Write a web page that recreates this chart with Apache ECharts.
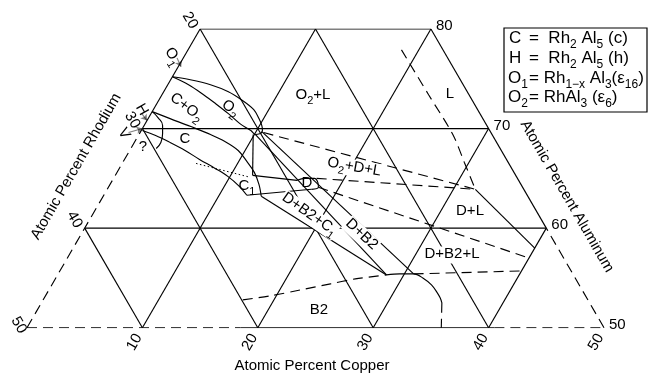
<!DOCTYPE html>
<html>
<head>
<meta charset="utf-8">
<title>Al-Cu-Rh partial section</title>
<script src="https://cdn.jsdelivr.net/npm/echarts@6/dist/echarts.min.js"></script>
<style>
html,body{margin:0;padding:0;background:#fff;}
#chart{width:649px;height:376px;}
</style>
</head>
<body>
<div id="chart"></div>
<script>
// ---------- axis ticks (atomic percent) ----------
const alTicks = [80, 70, 60, 50];      // right edge (Aluminum)
const cuTicks = [10, 20, 30, 40, 50];  // bottom edge (Copper)
const rhTicks = [20, 30, 40, 50];      // left edge (Rhodium)
const alLines = [60, 70, 80];
const cuLines = [10, 20, 30, 40];
const rhLines = [10, 20, 30, 40];
const leftEdgeSolidAl = [70, 80];
const rightEdgeSolidAl = [60, 80];
const bottomEdgeSolidCu = [18.5, 40.5];

// ---------- phase boundaries: points are [Cu at.%, Al at.%] ----------
const o2Upper = [[0,75.2],[1.7,74.9],[3.7,74.4],[5.6,73.7],[7.3,72.8],[8.7,71.9],[9.6,71.0],[10.2,70.3],[10.5,69.8],[10.5,69.5]];
const o2Lower = [[0,75.2],[1.8,74.4],[3.6,73.4],[5.1,72.5],[6.7,71.5],[8.2,70.5],[9.5,69.8],[10.1,69.4],[10.5,69.5]];
const cUpper = [[0,71.7],[1.9,71.0],[4.1,70.2],[6.2,69.4],[7.8,68.7],[9.4,67.8],[10.7,66.7],[11.9,65.6],[12.9,64.4],[13.7,63.2]];
const cLower = [[0.1,69.8],[1.5,69.3],[3.1,68.6],[4.8,67.8],[6.5,66.9],[8.3,66.0],[9.8,65.2],[11.3,64.2],[12.4,63.3]];
const hArc = [[0,71.7],[0.8,71.1],[1.6,70.3],[2.0,69.5],[2.3,68.6],[2.2,68.0]];
const c1Bottom = [[12.4,63.3],[17.7,63.9]];
const c1Top = [[11.9,65.3],[16.0,64.8]];
const o2C1Tie = [[9.9,69.4],[11.9,65.3]];
const cC1Dotted = [[6.4,66.5],[11.8,65.1]];
const dField = [[16.0,64.8],[16.6,65.0],[17.4,65.0],[17.9,64.6],[18.2,64.1],[17.7,63.9]];
const c1B2Line = [[13.7,63.2],[28.5,55.3]];
const dB2C1Line = [[10.1,69.4],[28.5,55.3]];
const dB2Line = [[10.5,69.7],[30.8,55.4]];
const b2Solid = [[28.5,55.3],[29.6,55.4],[30.8,55.4],[31.8,55.0],[32.9,54.3],[33.7,53.6],[34.3,53.0],[34.7,52.5]];
const b2RightDashed = [[34.7,52.5],[35.9,50]];
const b2LeftDashed = [[17.3,52.8],[19.5,53.2],[21.8,53.8],[24.1,54.4],[26.0,54.9],[28.5,55.3]];
const o2DLTop = [[10.7,69.6],[31.9,63.9]];
const dLTop = [[17.6,65.0],[31.9,63.9]];
const dLBottom = [[18.2,64.1],[40,57.0]];
const liquidus = [[18.5,77.9],[23.1,73.4],[27.2,69.4],[29.6,66.6],[31.9,63.9]];
const dLRight = [[31.9,63.9],[40,58.0]];
const b2LTop = [[30.8,55.4],[40,55.7]];
// annotation arrows
const o1Arrow = [[-0.55,77.1],[0.25,76.2]];
const hArrow = [[-0.8,71.5],[0,70.8]];
const vArrow = [[-1.0,69.6],[0,70.0]];

// ---------- rendering ----------
const FONT = "'Liberation Sans', Arial, Helvetica, sans-serif";
const INK = '#000';
const DASH = [10, 6];
const LW = 1.15;
const P = p => [p[0] + (p[1] - 50) / 2, p[1]];   // ternary -> cartesian (x, Al)
const series = [];
function addLine(pts, type, smooth, width) {
  series.push({
    type: 'line', data: pts.map(P), symbol: 'none', showSymbol: false,
    smooth: smooth || false, silent: true, animation: false, z: 3,
    lineStyle: { color: INK, width: width || LW, type: type || 'solid' }
  });
}
// frame & grid
alLines.forEach(a => addLine([[0, a], [100 - a, a]]));
cuLines.forEach(c => { const top = Math.min(80, 100 - c); addLine([[c, 50], [c, top]]); });
rhLines.forEach(r => { const top = Math.min(80, 100 - r); addLine([[50 - r, 50], [100 - r - top, top]]); });
addLine([[0, leftEdgeSolidAl[0]], [0, leftEdgeSolidAl[1]]]);
addLine([[0, 50], [0, leftEdgeSolidAl[0]]], DASH);
addLine([[100 - rightEdgeSolidAl[0], rightEdgeSolidAl[0]], [100 - rightEdgeSolidAl[1], rightEdgeSolidAl[1]]]);
addLine([[50, 50], [100 - rightEdgeSolidAl[0], rightEdgeSolidAl[0]]], DASH);
addLine([[bottomEdgeSolidCu[0], 50], [bottomEdgeSolidCu[1], 50]]);
addLine([[0, 50], [bottomEdgeSolidCu[0], 50]], DASH);
addLine([[bottomEdgeSolidCu[1], 50], [50, 50]], DASH);
// phase boundaries
addLine(o2Upper, 'solid', 0.35);
addLine(o2Lower, 'solid', 0.35);
addLine(cUpper, 'solid', 0.35);
addLine(cLower, 'solid', 0.35);
addLine(hArc, 'solid', 0.5);
addLine(c1Bottom);
addLine(c1Top);
addLine(o2C1Tie);
addLine(cC1Dotted, [1.5, 2.5], false, 1);
addLine(dField, 'solid', 0.4);
addLine(c1B2Line);
addLine(dB2C1Line);
addLine(dB2Line);
addLine(b2Solid, 'solid', 0.35);
addLine(b2RightDashed, DASH);
addLine(b2LeftDashed, DASH, 0.3);
addLine(o2DLTop, DASH);
addLine(dLTop, DASH);
addLine(dLBottom, DASH);
addLine(liquidus, DASH, 0.3);
addLine(dLRight);
addLine(b2LTop, DASH);
series.push({
  type: 'lines', coordinateSystem: 'cartesian2d', silent: true, animation: false, z: 4,
  symbol: ['none', 'arrow'], symbolSize: 6,
  lineStyle: { color: INK, width: LW },
  data: [o1Arrow, hArrow, vArrow].map(a => ({ coords: a.map(P) }))
});

const chart = echarts.init(document.getElementById('chart'));
chart.setOption({
  animation: false,
  backgroundColor: '#fff',
  grid: { left: 27, right: 45, top: 29, bottom: 48.3 },
  xAxis: { type: 'value', min: 0, max: 50, show: false },
  yAxis: { type: 'value', min: 50, max: 80, show: false },
  series: series
});

const px = (cu, al) => chart.convertToPixel({ gridIndex: 0 }, P([cu, al]));
function mkRich(size, sub) {
  return {
    n: { fontSize: size, fontFamily: FONT, lineHeight: size + 2, verticalAlign: 'top', color: INK },
    s: { fontSize: sub, fontFamily: FONT, lineHeight: sub, padding: [Math.round(size * 0.53), 0, 0, 0], verticalAlign: 'top', color: INK }
  };
}
const richMain = mkRich(15, 11);
const richLegend = mkRich(17, 12);
const g = [];
function txt(text, x, y, rotDeg, opts) {
  opts = opts || {};
  g.push({
    type: 'text', x: x, y: y, rotation: (rotDeg || 0) * Math.PI / 180, z: 100,
    style: Object.assign({
      text: text, rich: opts.rich || richMain, font: '15px ' + FONT, fill: INK,
      textAlign: opts.align || 'center', textVerticalAlign: 'middle'
    }, opts.bg ? { backgroundColor: '#fff', padding: [0, 1] } : {})
  });
}
// tick labels
alTicks.forEach(a => { const p = px(100 - a, a); txt('{n|' + a + '}', p[0] + 5, p[1] - 2, 0, { align: 'left' }); });
cuTicks.forEach(c => { const p = px(c, 50); txt('{n|' + c + '}', p[0] - 7, p[1] + 15, 60); });
rhTicks.forEach(r => {
  const p = px(0, 100 - r);
  const off = r === 50 ? [-9, -2] : [-11, -8];
  txt('{n|' + r + '}', p[0] + off[0], p[1] + off[1], -60);
});
// axis titles
txt('{n|Atomic Percent Copper}', 312, 367, 0);
txt('{n|Atomic Percent Rhodium}', 77, 167, 60);
txt('{n|Atomic Percent Aluminum}', 566, 197, -60);
// field labels
txt('{n|O}{s|2}{n|+L}', 313, 96);
txt('{n|L}', 450, 95);
txt('{n|O}{s|2}', 230, 109, -35);
txt('{n|C+O}{s|2}', 186, 108, -37);
txt('{n|C}', 185, 140);
txt('{n|C}{s|1}', 247, 187);
txt('{n|D}', 307, 184);
txt('{n|O}{s|2}{n|+D+L}', 354, 168, -10, { bg: true });
txt('{n|D+L}', 470, 212);
txt('{n|D+B2+L}', 452, 255, 0, { bg: true });
txt('{n|D+B2}', 361, 235, -43, { bg: true });
txt('{n|D+B2+C}{s|1}', 309, 215, -35, { bg: true });
txt('{n|B2}', 319, 311);
txt('{n|?}', 143, 148);
txt('{n|V}', 123, 134, -60);
txt('{n|H}', 141, 110, -60);
txt('{n|O}{s|1}', 172, 57, -60);
// legend box
g.push({ type: 'rect', z: 100, shape: { x: 504, y: 28, width: 143, height: 84 }, style: { fill: '#fff', stroke: INK, lineWidth: 1.2 } });
const L = { align: 'left', rich: richLegend };
txt('{n|C}', 509, 39, 0, L);
txt('{n|=  Rh}{s|2}{n| Al}{s|5}{n| (c)}', 529, 39, 0, L);
txt('{n|H}', 509, 59, 0, L);
txt('{n|=  Rh}{s|2}{n| Al}{s|5}{n| (h)}', 529, 59, 0, L);
txt('{n|O}{s|1}', 508, 79, 0, L);
txt('{n|= Rh}{s|1\u2212x}{n| Al}{s|3}{n|(\u03b5}{s|16}{n|)}', 529, 79, 0, L);
txt('{n|O}{s|2}', 508, 98, 0, L);
txt('{n|= RhAl}{s|3}{n| (\u03b5}{s|6}{n|)}', 529, 98, 0, L);

chart.setOption({ graphic: { elements: g } });
</script>
</body>
</html>
